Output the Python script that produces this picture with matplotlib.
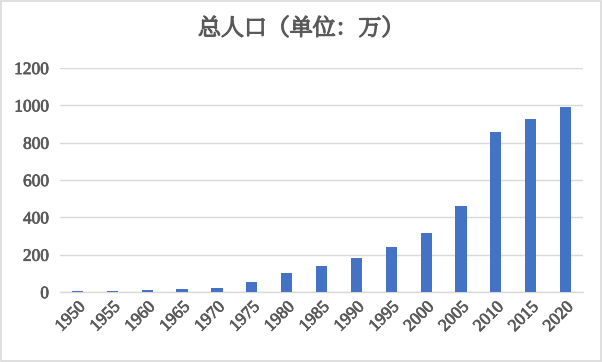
import matplotlib.pyplot as plt
import matplotlib.patheffects as pe
from matplotlib import font_manager as fm
from matplotlib.patches import Rectangle

plt.rcParams["font.family"] = ["Liberation Serif", "DejaVu Serif"]

# data
years = ["1950", "1955", "1960", "1965", "1970", "1975", "1980", "1985",
         "1990", "1995", "2000", "2005", "2010", "2015", "2020"]
population = [5, 5, 11, 18, 23, 56, 104, 141, 183, 242, 317, 461, 857, 927, 991]
yticks = [0, 200, 400, 600, 800, 1000, 1200]
title = "总人口（单位：万）"

text_color = "#595959"
grid_color = "#D9D9D9"
bar_color = "#4472C4"

# title is a Song-style serif in the original; use a serif CJK face if there is one
installed = {f.name for f in fm.fontManager.ttflist}
title_font = "Noto Sans CJK SC"
for cand in ["Noto Serif CJK SC", "Noto Serif SC", "Source Han Serif SC", "Noto Serif CJK JP"]:
    if cand in installed:
        title_font = cand
        break

fig = plt.figure(figsize=(6.02, 3.62), dpi=100)
ax = fig.add_axes([0.0997, 0.193, 0.8688, 0.619])

x = range(len(years))
ax.bar(x, population, width=0.32, color=bar_color, zorder=3)

ax.set_xlim(-0.5, len(years) - 0.5)
ax.set_ylim(0, 1200)
ax.set_yticks(yticks)
ax.set_yticklabels([str(v) for v in yticks])
ax.set_xticks(list(x))
ax.set_xticklabels(years, rotation=45, ha="right", rotation_mode="anchor")

ax.yaxis.grid(True, color=grid_color, linewidth=1.0, zorder=0)
ax.tick_params(axis="both", length=0, labelsize=12.5, labelcolor=text_color)
ax.tick_params(axis="y", pad=8)
ax.tick_params(axis="x", pad=5)
# slight stroke to mimic the heavier rendering of the original
thick = [pe.withStroke(linewidth=0.5, foreground=text_color)]
for lbl in ax.get_xticklabels() + ax.get_yticklabels():
    lbl.set_path_effects(thick)
for s in ["top", "right", "left"]:
    ax.spines[s].set_visible(False)
ax.spines["bottom"].set_color(grid_color)
ax.spines["bottom"].set_linewidth(1.0)

ttl = fig.text(0.5, 0.92, title, ha="center", va="center", fontsize=16.5,
               fontweight="bold", color=text_color,
               family=[title_font, "Noto Sans CJK SC", "DejaVu Sans"])
if title_font != "Noto Sans CJK SC":
    ttl.set_path_effects([pe.withStroke(linewidth=1.1, foreground=text_color)])

fig.patches.append(Rectangle((0.001, 0.002), 0.997, 0.995, transform=fig.transFigure,
                             fill=False, edgecolor=grid_color, linewidth=1.2))

fig.savefig("out.png", dpi=100)
